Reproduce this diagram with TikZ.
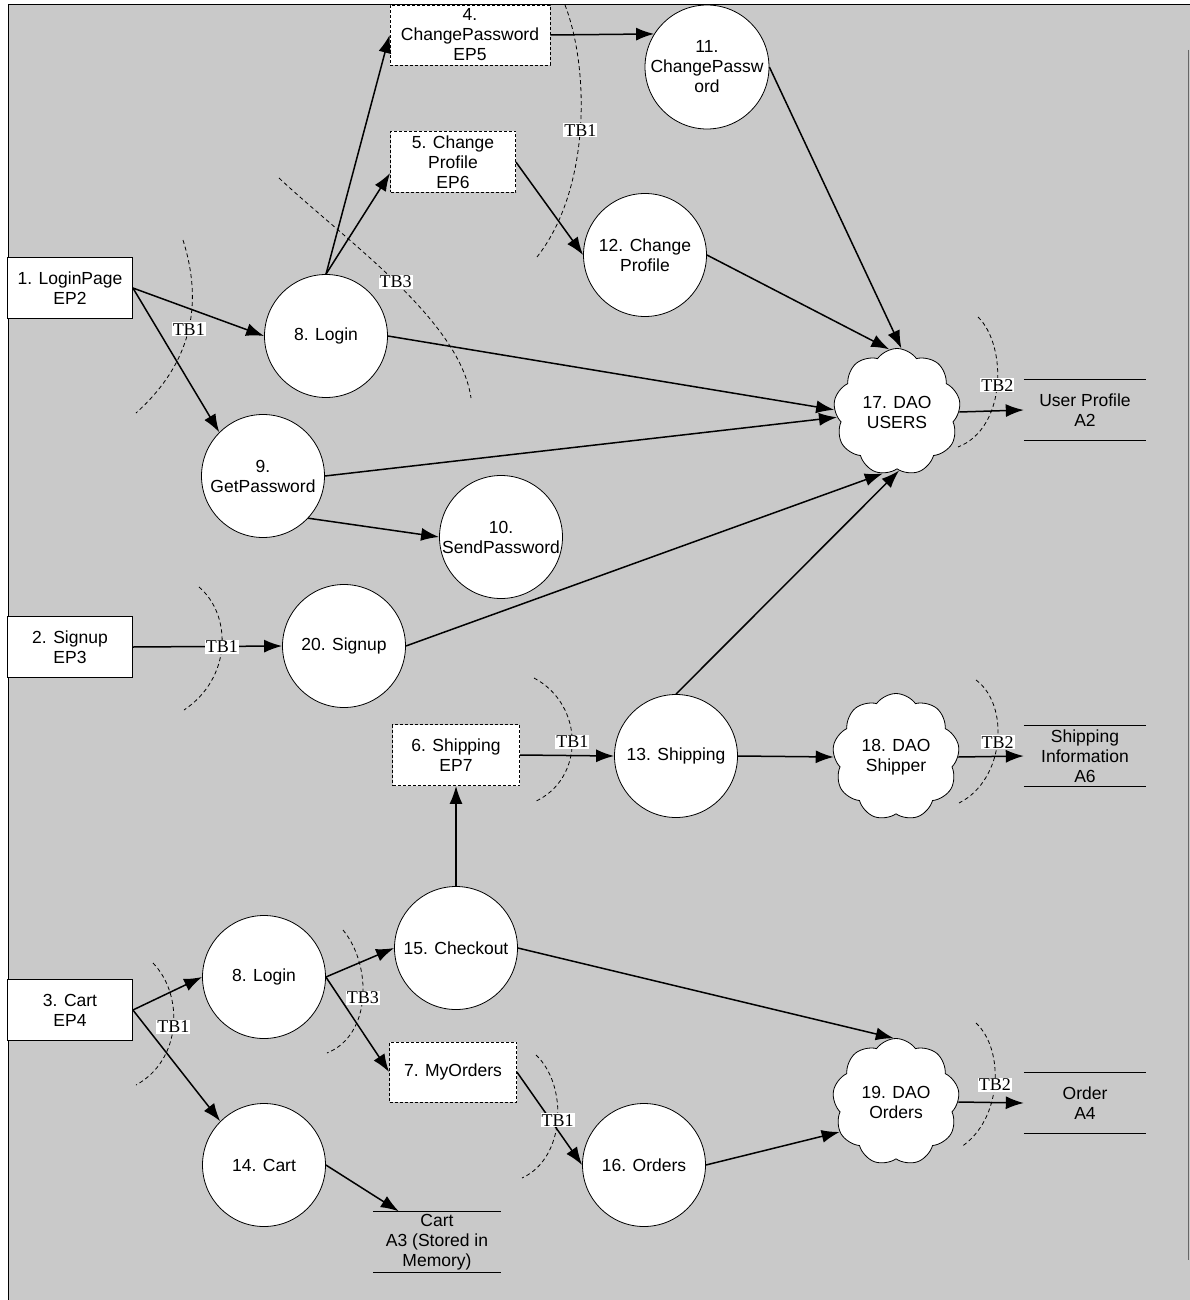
\documentclass[tikz,border=0pt]{standalone}
\usepackage{fontspec}
\setmainfont{Liberation Sans}
\newfontfamily\tbfont{Liberation Serif}
\usetikzlibrary{shapes.symbols,arrows.meta,calc}

\begin{document}
\begin{tikzpicture}[x=1pt, y=-1pt,
  ep/.style={rectangle, draw, line width=0.8pt, fill=white, minimum width=125pt,
    minimum height=61pt, inner sep=2pt, align=center, font=\fontsize{17.5}{20}\selectfont},
  epdash/.style={ep, dash pattern=on 3pt off 2pt},
  proc/.style={circle, draw, line width=0.8pt, fill=white, minimum size=123pt,
    inner sep=0pt, align=center, font=\fontsize{17.5}{20}\selectfont},
  dao/.style={cloud, cloud puffs=9, cloud puff arc=110, aspect=1, draw, line width=0.8pt,
    fill=white, minimum width=127pt, minimum height=127pt, inner sep=0pt, align=center,
    font=\fontsize{17.5}{20}\selectfont},
  store/.style={minimum width=122pt, minimum height=61pt, inner sep=0pt, align=center,
    font=\fontsize{17.5}{20}\selectfont},
  flow/.style={-{Latex[length=18pt,width=13pt]}, line width=1.5pt},
  tbline/.style={dash pattern=on 4pt off 3pt, line width=0.8pt},
  tblbl/.style={fill=white, inner sep=1pt, font=\tbfont\fontsize{18}{18}\selectfont},
]

\useasboundingbox (0,0) rectangle (1190,1300);

%% ── Background sheet ─────────────────────────────────────────────────────────
\fill[black!21] (8,5) rectangle (1190,1300);
\draw[line width=1pt] (8,1300) -- (8,5) -- (1190,5);
\draw[line width=0.6pt, black!60] (1188,50) -- (1188,1260);

%% ── Trust boundaries (dashed arcs) ───────────────────────────────────────────
\draw[tbline] (183,240) .. controls (202,300) and (195,360) .. (136,413) coordinate[pos=0.5] (tbA);
\draw[tbline] (279,178) .. controls (345,240) and (460,320) .. (471,398) coordinate[pos=0.5] (tbB);
\draw[tbline] (565,5)   .. controls (590,70)  and (590,190) .. (537,257) coordinate[pos=0.5] (tbC);
\draw[tbline] (978,317) .. controls (1007,345) and (1007,428) .. (958,447) coordinate[pos=0.5] (tbD);
\draw[tbline] (199,587) .. controls (232,615) and (232,678) .. (184,710) coordinate[pos=0.5] (tbE);
\draw[tbline] (534,678) .. controls (585,705) and (585,780) .. (534,802) coordinate[pos=0.5] (tbF);
\draw[tbline] (976,680) .. controls (1010,705) and (1005,780) .. (959,803) coordinate[pos=0.5] (tbG);
\draw[tbline] (153,963) .. controls (184,995) and (182,1060) .. (136,1085) coordinate[pos=0.5] (tbH);
\draw[tbline] (343,930) .. controls (372,965) and (372,1035) .. (327,1053) coordinate[pos=0.5] (tbI);
\draw[tbline] (536,1055) .. controls (568,1085) and (566,1158) .. (522,1178) coordinate[pos=0.5] (tbJ);
\draw[tbline] (976,1023) .. controls (1005,1050) and (1002,1120) .. (961,1147) coordinate[pos=0.5] (tbK);

%% ── Entry points ─────────────────────────────────────────────────────────────
\node[ep] (ep1) at (70,288)  {1. LoginPage\\EP2};
\node[ep] (ep2) at (70,647)  {2. Signup\\EP3};
\node[ep] (ep3) at (70,1010) {3. Cart\\EP4};
\node[epdash, minimum width=160pt, minimum height=60pt] (ep4) at (470,35) {4.\\ChangePassword\\EP5};
\node[epdash] (ep5) at (453,162)  {5. Change\\Profile\\EP6};
\node[epdash, minimum width=127pt] (ep6) at (456,755)  {6. Shipping\\EP7};
\node[epdash, minimum width=127pt, minimum height=60pt] (ep7) at (453,1072) {7. MyOrders};

%% ── Processes ────────────────────────────────────────────────────────────────
\node[proc] (p8)  at (326,336)  {8. Login};
\node[proc] (p9)  at (263,476)  {9.\\GetPassword};
\node[proc] (p10) at (501,537)  {10.\\SendPassword};
\node[proc] (p11) at (707,67)   {11.\\ChangePassw\\ord};
\node[proc] (p12) at (645,255)  {12. Change\\Profile};
\node[proc] (p20) at (344,646)  {20. Signup};
\node[proc] (p13) at (676,756)  {13. Shipping};
\node[proc] (p15) at (456,948)  {15. Checkout};
\node[proc] (p8b) at (264,977)  {8. Login};
\node[proc] (p14) at (264,1165) {14. Cart};
\node[proc] (p16) at (644,1165) {16. Orders};

%% ── Data access objects ──────────────────────────────────────────────────────
\node[dao] (dao17) at (897,412)  {17. DAO\\USERS};
\node[dao] (dao18) at (896,757)  {18. DAO\\Shipper};
\node[dao] (dao19) at (896,1102) {19. DAO\\Orders};

%% ── Data stores ──────────────────────────────────────────────────────────────
\node[store] (st2) at (1085,410)  {User Profile\\A2};
\node[store] (st6) at (1085,756)  {Shipping\\Information\\A6};
\node[store] (st4) at (1085,1103) {Order\\A4};
\node[store, minimum width=127pt] (st3) at (437,1242) {Cart\\A3 (Stored in\\Memory)};
\foreach \s in {st2,st6,st4,st3}
  \draw[line width=0.8pt] (\s.north west) -- (\s.north east) (\s.south west) -- (\s.south east);

%% ── Flows ────────────────────────────────────────────────────────────────────
\draw[flow] (ep1.east) -- (p8.west);
\draw[flow] (ep1.east) -- (p9.135);
\draw[flow] (p8.north) -- (ep4.west);
\draw[flow] (p8.north) -- (ep5.190);
\draw[flow] (ep4.east) -- (p11.148);
\draw[flow] (ep5.east) -- (p12.west);
\draw[flow] (p11.east) -- (dao17.86);
\draw[flow] (p12.east) -- (dao17.97);
\draw[flow] (p8.east)  -- (dao17.178);
\draw[flow] (p9.east)  -- (dao17.185);
\draw[flow] (p9.317)   -- (p10.west);
\draw[flow] (ep2.east) -- (p20.west);
\draw[flow] (p20.east) -- (dao17.257);
\draw[flow] (p13.north) -- (dao17.272);
\draw[flow] (dao17.east) -- (st2.west);
\draw[flow] (ep6.east) -- (p13.west);
\draw[flow] (p13.east) -- (dao18.west);
\draw[flow] (dao18.east) -- (st6.west);
\draw[flow] (p15.north) -- (ep6.south);
\draw[flow] (ep3.east) -- (p8b.west);
\draw[flow] (ep3.east) -- (p14.135);
\draw[flow] (p8b.east) -- (p15.west);
\draw[flow] (p8b.east) -- (ep7.west);
\draw[flow] (p15.east) -- (dao19.92);
\draw[flow] (ep7.east) -- (p16.west);
\draw[flow] (p16.east) -- (dao19.208);
\draw[flow] (dao19.east) -- (st4.west);
\draw[flow] (p14.east) -- ($(st3.north west)!0.2!(st3.north east)$);

%% ── Trust boundary labels ────────────────────────────────────────────────────
\node[tblbl] (lA) at (tbA) {TB1};
\node[tblbl] (lB) at (tbB) {TB3};
\node[tblbl] (lC) at (tbC) {TB1};
\node[tblbl] (lD) at (tbD) {TB2};
\node[tblbl] (lE) at (tbE) {TB1};
\node[tblbl] (lF) at (tbF) {TB1};
\node[tblbl] (lG) at (tbG) {TB2};
\node[tblbl] (lH) at (tbH) {TB1};
\node[tblbl] (lI) at (tbI) {TB3};
\node[tblbl] (lJ) at (tbJ) {TB1};
\node[tblbl] (lK) at (tbK) {TB2};

\end{tikzpicture}
\end{document}
